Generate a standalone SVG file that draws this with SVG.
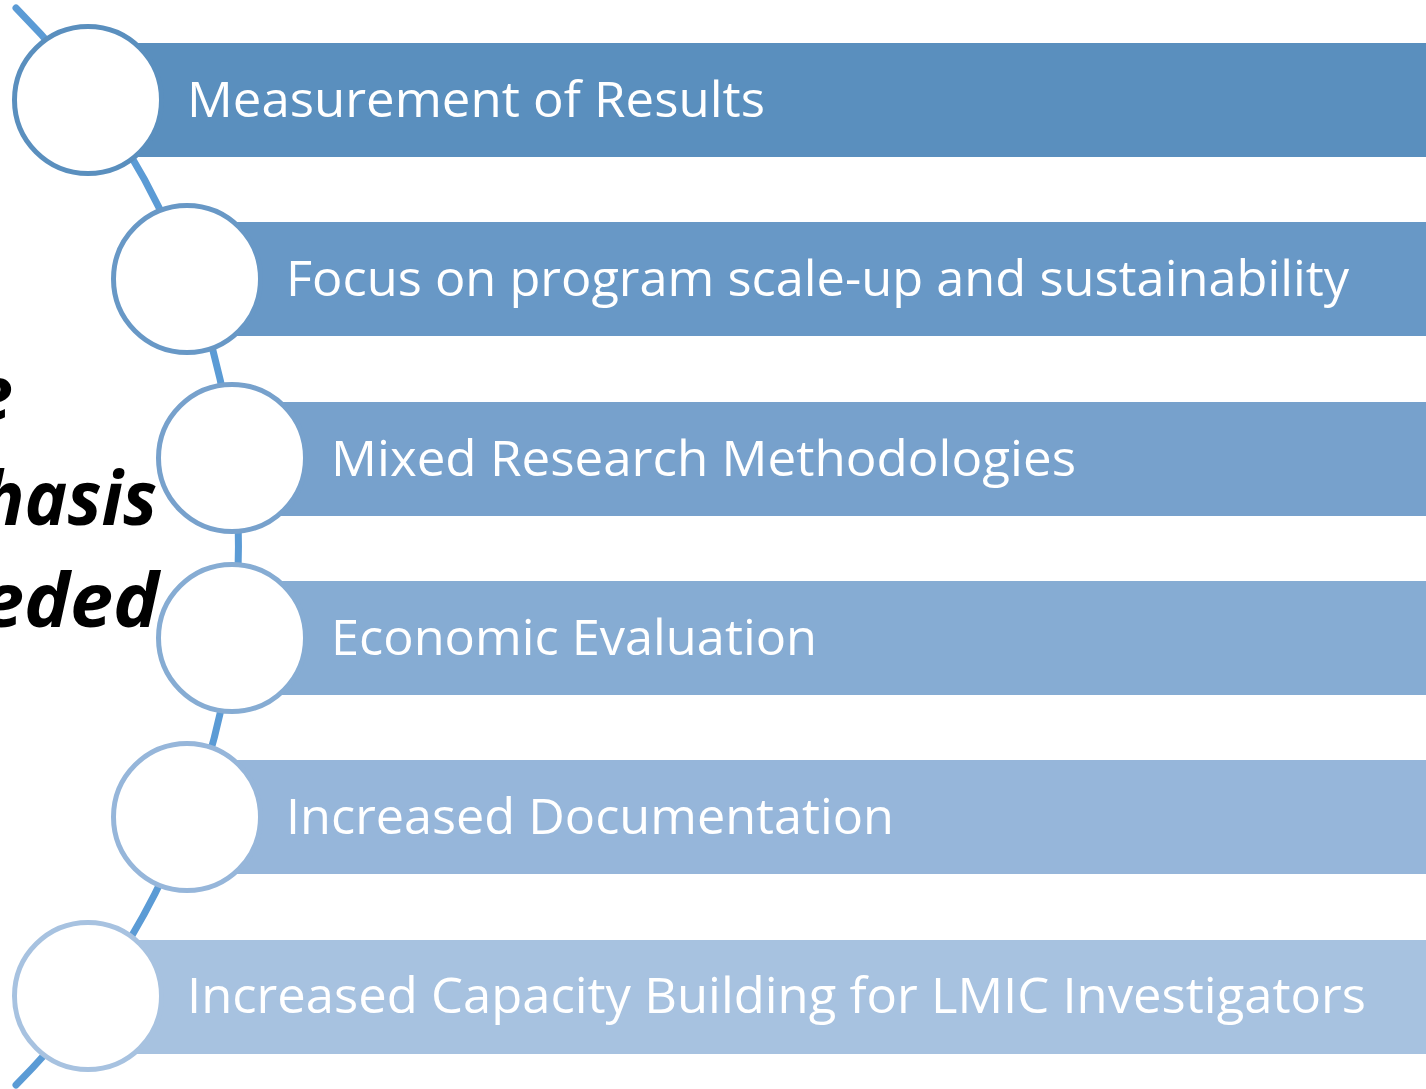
<svg xmlns="http://www.w3.org/2000/svg" width="1426" height="1089" viewBox="0 0 1426 1089">
  <defs>
    <style>
      .lbl { font-family: "Open Sans", "Noto Sans", "Liberation Sans", sans-serif; font-size: 50px; fill: #ffffff; }
      .big { font-family: "Open Sans", "Noto Sans", "Liberation Sans", sans-serif; font-size: 76px; font-weight: 700; font-style: italic; fill: #000000; }
      .ring { fill: #ffffff; stroke-width: 5; }
      .conn { fill: none; stroke: #5b9bd5; stroke-width: 7; stroke-linecap: round; }
    </style>
  </defs>
  <rect x="0" y="0" width="1426" height="1089" fill="#ffffff"/>

  <g id="title-fragments">
    <text class="big" x="13" y="420" text-anchor="end" textLength="42" lengthAdjust="spacingAndGlyphs">e</text>
    <text class="big" x="157" y="525" text-anchor="end" textLength="176" lengthAdjust="spacingAndGlyphs">hasis</text>
    <text class="big" x="159" y="627" text-anchor="end" textLength="178" lengthAdjust="spacingAndGlyphs">eded</text>
  </g>

  <g id="connectors">
    <path class="conn" d="M 16 8 A 763 763 0 0 1 16 1085"/>
  </g>

  <g id="node1">
    <rect x="88" y="43" width="1338" height="114" fill="#5a8fbe"/>
    <circle class="ring" cx="88" cy="100" r="73.5" stroke="#5a8fbe"/>
    <text class="lbl" x="187" y="117" textLength="578" lengthAdjust="spacingAndGlyphs">Measurement of Results</text>
  </g>
  <g id="node2">
    <rect x="187" y="222" width="1239" height="114" fill="#6898c6"/>
    <circle class="ring" cx="187" cy="279" r="73.5" stroke="#6898c6"/>
    <text class="lbl" x="286" y="296" textLength="1063" lengthAdjust="spacingAndGlyphs">Focus on program scale-up and sustainability</text>
  </g>
  <g id="node3">
    <rect x="232" y="402" width="1194" height="114" fill="#77a1cc"/>
    <circle class="ring" cx="232" cy="458" r="73.5" stroke="#77a1cc"/>
    <text class="lbl" x="331" y="476" textLength="745" lengthAdjust="spacingAndGlyphs">Mixed Research Methodologies</text>
  </g>
  <g id="node4">
    <rect x="232" y="581" width="1194" height="114" fill="#86acd3"/>
    <circle class="ring" cx="232" cy="638" r="73.5" stroke="#86acd3"/>
    <text class="lbl" x="331" y="655" textLength="486" lengthAdjust="spacingAndGlyphs">Economic Evaluation</text>
  </g>
  <g id="node5">
    <rect x="187" y="760" width="1239" height="114" fill="#96b6da"/>
    <circle class="ring" cx="187" cy="817" r="73.5" stroke="#96b6da"/>
    <text class="lbl" x="286" y="834" textLength="608" lengthAdjust="spacingAndGlyphs">Increased Documentation</text>
  </g>
  <g id="node6">
    <rect x="88" y="940" width="1338" height="114" fill="#a7c2e0"/>
    <circle class="ring" cx="88" cy="996" r="73.5" stroke="#a7c2e0"/>
    <text class="lbl" x="187" y="1013" textLength="1179" lengthAdjust="spacingAndGlyphs">Increased Capacity Building for LMIC Investigators</text>
  </g>
</svg>
